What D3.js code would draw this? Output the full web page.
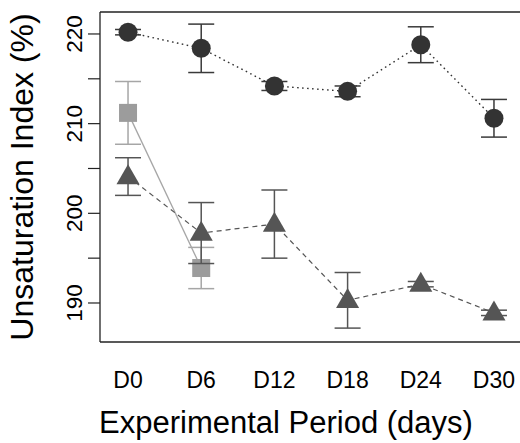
<!DOCTYPE html>
<html>
<head>
<meta charset="utf-8">
<script src="https://cdn.jsdelivr.net/npm/d3@7"></script>
<style>
  html, body { margin: 0; padding: 0; background: #fff; overflow: hidden; }
  svg { display: block; }
  text { font-family: "Liberation Sans", Arial, sans-serif; fill: #000; }
</style>
</head>
<body>
<div id="chart"></div>
<script>
  // data
  var days = ['D0', 'D6', 'D12', 'D18', 'D24', 'D30'];

  var circleMean = [220.2, 218.4, 214.2, 213.6, 218.8, 210.6];
  var circleErr  = [0.3, 2.7, 0.5, 0.6, 2.0, 2.1];

  var triMean = [204.1, 197.8, 198.8, 190.3, 192.1, 188.9];
  var triErr  = [2.1, 3.4, 3.8, 3.1, 0.3, 0.3];

  var sqDays = ['D0', 'D6'];
  var sqMean = [211.2, 193.9];
  var sqErr  = [3.5, 2.3];

  var yTicks = [190, 195, 200, 205, 210, 215, 220];

  var W = 520, H = 443;
  var margin = { top: 12, left: 100, bottom: 101, right: -2 },
    width = W - margin.left - margin.right,
    height = H - margin.top - margin.bottom;

  var svg = d3.select('#chart').append('svg')
    .attr('width', W)
    .attr('height', H);

  var g = svg.append('g')
    .attr('transform', 'translate(' + margin.left + ',' + margin.top + ')');

  var x = d3.scalePoint().domain(days).range([0, width]).padding(0.383);
  var y = d3.scaleLinear().domain([185.65, 222.45]).range([height, 0]);

  function rows(names, means, errs) {
    return names.map((d, i) => ({ day: d, v: means[i], e: errs[i] }));
  }
  var circles = rows(days, circleMean, circleErr);
  var tris = rows(days, triMean, triErr);
  var squares = rows(sqDays, sqMean, sqErr);

  var line = d3.line().x(d => x(d.day)).y(d => y(d.v));

  // lines
  g.append('path').datum(squares)
    .attr('d', line).attr('fill', 'none')
    .attr('stroke', '#a6a6a6').attr('stroke-width', 1.3);
  g.append('path').datum(tris)
    .attr('d', line).attr('fill', 'none')
    .attr('stroke', '#555').attr('stroke-width', 1.2)
    .attr('stroke-dasharray', '5,4');
  g.append('path').datum(circles)
    .attr('d', line).attr('fill', 'none')
    .attr('stroke', '#333').attr('stroke-width', 1.4)
    .attr('stroke-dasharray', '1.6,3.4');

  function errorBars(data, color, cls) {
    var eb = g.selectAll('.' + cls).data(data).enter().append('g')
      .attr('class', cls).attr('stroke', color).attr('stroke-width', 1.5);
    eb.append('line')
      .attr('x1', d => x(d.day)).attr('x2', d => x(d.day))
      .attr('y1', d => y(d.v - d.e)).attr('y2', d => y(d.v + d.e));
    [1, -1].forEach(s => {
      eb.append('line')
        .attr('x1', d => x(d.day) - 13).attr('x2', d => x(d.day) + 13)
        .attr('y1', d => y(d.v + s * d.e)).attr('y2', d => y(d.v + s * d.e));
    });
  }

  // squares
  errorBars(squares, '#a6a6a6', 'eb-sq');
  g.selectAll('.sq').data(squares).enter().append('rect')
    .attr('class', 'sq')
    .attr('x', d => x(d.day) - 9).attr('y', d => y(d.v) - 9)
    .attr('width', 18).attr('height', 18)
    .attr('fill', '#9c9c9c');

  // triangles
  errorBars(tris, '#555', 'eb-tri');
  var tri = d3.symbol().type(d3.symbolTriangle).size(230);
  g.selectAll('.tri').data(tris).enter().append('path')
    .attr('class', 'tri')
    .attr('d', tri)
    .attr('transform', d => 'translate(' + x(d.day) + ',' + (y(d.v) + 1) + ')')
    .attr('fill', '#555');

  // circles
  errorBars(circles, '#3a3a3a', 'eb-c');
  g.selectAll('.dot').data(circles).enter().append('circle')
    .attr('class', 'dot')
    .attr('cx', d => x(d.day)).attr('cy', d => y(d.v))
    .attr('r', 9.5)
    .attr('fill', '#333');

  // box: only top, left and bottom sides show
  [[0, 0, width + 10, 0], [0, 0, 0, height], [0, height, width + 10, height]].forEach(s => {
    g.append('line')
      .attr('x1', s[0]).attr('y1', s[1]).attr('x2', s[2]).attr('y2', s[3])
      .attr('stroke', '#222').attr('stroke-width', 1.3);
  });

  // y axis
  var yAxis = g.append('g');
  yAxis.selectAll('.yt').data(yTicks).enter().append('line')
    .attr('x1', -12).attr('x2', 0)
    .attr('y1', d => y(d)).attr('y2', d => y(d))
    .attr('stroke', '#222').attr('stroke-width', 1.2);
  yAxis.selectAll('.yl').data(yTicks.filter(d => d % 10 === 0)).enter().append('text')
    .attr('transform', d => 'translate(-18,' + y(d) + ') rotate(-90)')
    .attr('text-anchor', 'middle')
    .style('font-size', '22.5px')
    .text(d => d);

  // x labels
  g.selectAll('.xl').data(days).enter().append('text')
    .attr('x', d => x(d)).attr('y', height + 46)
    .attr('text-anchor', 'middle')
    .style('font-size', '23px')
    .text(d => d);

  svg.append('text')
    .attr('x', 286).attr('y', 433)
    .attr('text-anchor', 'middle')
    .style('font-size', '31px')
    .text('Experimental Period (days)');

  svg.append('text')
    .attr('transform', 'translate(33,' + (margin.top + height / 2) + ') rotate(-90)')
    .attr('text-anchor', 'middle')
    .style('font-size', '32px')
    .text('Unsaturation Index (%)');
</script>
</body>
</html>
